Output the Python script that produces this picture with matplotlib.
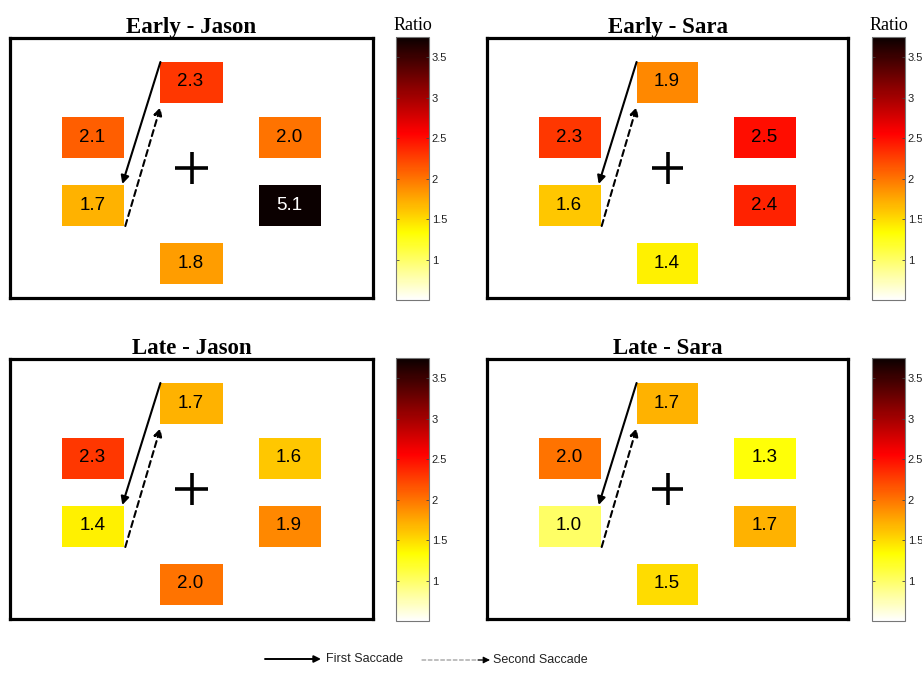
import numpy as np
import matplotlib
matplotlib.use('Agg')
import matplotlib.pyplot as plt
from matplotlib.patches import Rectangle, FancyArrowPatch
from matplotlib.colors import Normalize
from matplotlib.cm import ScalarMappable


# ---------------- data ----------------
panel_titles = ['Early - Jason', 'Early - Sara', 'Late - Jason', 'Late - Sara']
# order of target locations: top, left-upper, left-lower, right-upper, right-lower, bottom
early_jason = [2.3, 2.1, 1.7, 2.0, 5.1, 1.8]
early_sara = [1.9, 2.3, 1.6, 2.5, 2.4, 1.4]
late_jason = [1.7, 2.3, 1.4, 1.6, 1.9, 2.0]
late_sara = [1.7, 2.0, 1.0, 1.3, 1.7, 1.5]
cbar_ticks = [1, 1.5, 2, 2.5, 3, 3.5]
cbar_ticklabels = ['1', '1.5', '2', '2.5', '3', '3.5']

# screen layout (pixel units relative to fixation cross)
target_xy = [(0, 86), (-98, 31), (-98, -37), (98, 31), (98, -37), (0, -95)]
box_w, box_h = 62, 41

cmap = plt.get_cmap('hot_r')
norm = Normalize(vmin=0.5, vmax=3.75)

W, H = 922, 677
fig = plt.figure(figsize=(W / 100, H / 100), dpi=100)


def fr(x0, y0, x1, y1):
    # pixel box -> figure fraction rect
    return [x0 / W, 1 - y1 / H, (x1 - x0) / W, (y1 - y0) / H]


panel_rects = [fr(10, 38, 373, 298), fr(487, 38, 848, 298),
               fr(10, 359, 373, 619), fr(487, 359, 848, 619)]
cbar_rects = [fr(396, 37, 429, 300), fr(872, 37, 905, 300),
              fr(396, 358, 429, 621), fr(872, 358, 905, 621)]

all_values = [early_jason, early_sara, late_jason, late_sara]

for i, (title, vals) in enumerate(zip(panel_titles, all_values)):
    ax = fig.add_axes(panel_rects[i])
    ax.set_xlim(-181, 181)
    ax.set_ylim(-130, 130)
    ax.set_xticks([])
    ax.set_yticks([])
    for sp in ax.spines.values():
        sp.set_linewidth(2.3)
    ax.set_title(title, fontsize=16.5, fontweight='bold',
                 family='Liberation Serif', pad=3)

    for (x, y), v in zip(target_xy, vals):
        ax.add_patch(Rectangle((x - box_w / 2, y - box_h / 2), box_w, box_h,
                               facecolor=cmap(norm(v)), edgecolor='none'))
        ax.text(x - 1, y, f'{v:.1f}', ha='center', va='center', fontsize=13.5,
                family='Liberation Sans',
                color='white' if v > 3.2 else 'black')

    # fixation cross
    ax.plot([-16, 16], [0, 0], color='black', lw=2.6, solid_capstyle='butt')
    ax.plot([0, 0], [-16, 16], color='black', lw=2.6, solid_capstyle='butt')

    # saccade arrows
    ax.add_patch(FancyArrowPatch((-31, 106), (-69, -16), arrowstyle='-|>',
                                 mutation_scale=12, lw=1.5, color='black',
                                 shrinkA=0, shrinkB=0))
    ax.add_patch(FancyArrowPatch((-66, -58), (-31, 61), arrowstyle='-|>',
                                 mutation_scale=12, lw=1.5, color='black',
                                 linestyle=(0, (3, 2)), shrinkA=0, shrinkB=0))

    # colorbar
    cax = fig.add_axes(cbar_rects[i])
    cb = fig.colorbar(ScalarMappable(norm=norm, cmap=cmap), cax=cax)
    cb.set_ticks(cbar_ticks)
    cb.set_ticklabels(cbar_ticklabels)
    cb.outline.set_edgecolor('#777777')
    cb.outline.set_linewidth(0.8)
    cax.yaxis.set_ticks_position('both')
    cax.tick_params(direction='in', length=2.5, width=0.6, color='#444444',
                    labelsize=8, labelcolor='#222222', pad=2,
                    labelleft=False, labelright=True)
    for lab in cax.get_yticklabels():
        lab.set_family('Liberation Sans')
    if i < 2:
        cax.set_title('Ratio', fontsize=13, family='Liberation Serif', pad=5)

# legend for the saccade arrows
fig.add_artist(FancyArrowPatch((265 / W, 1 - 659 / H), (321 / W, 1 - 659 / H),
                               transform=fig.transFigure, arrowstyle='-|>',
                               mutation_scale=10, lw=1.4, color='black',
                               shrinkA=0, shrinkB=0))
fig.text(326 / W, 1 - 659 / H, 'First Saccade', fontsize=9,
         family='Liberation Sans', color='#222222', va='center', ha='left')
fig.add_artist(FancyArrowPatch((422 / W, 1 - 660 / H), (482 / W, 1 - 660 / H),
                               transform=fig.transFigure, arrowstyle='-',
                               lw=0.9, color='#999999', linestyle=(0, (3, 2)),
                               shrinkA=0, shrinkB=0))
fig.add_artist(FancyArrowPatch((478 / W, 1 - 660 / H), (490 / W, 1 - 660 / H),
                               transform=fig.transFigure, arrowstyle='-|>',
                               mutation_scale=10, lw=0.8, color='black',
                               shrinkA=0, shrinkB=0))
fig.text(493 / W, 1 - 660 / H, 'Second Saccade', fontsize=9,
         family='Liberation Sans', color='#222222', va='center', ha='left')

fig.savefig('out.png', dpi=100, facecolor='white')
